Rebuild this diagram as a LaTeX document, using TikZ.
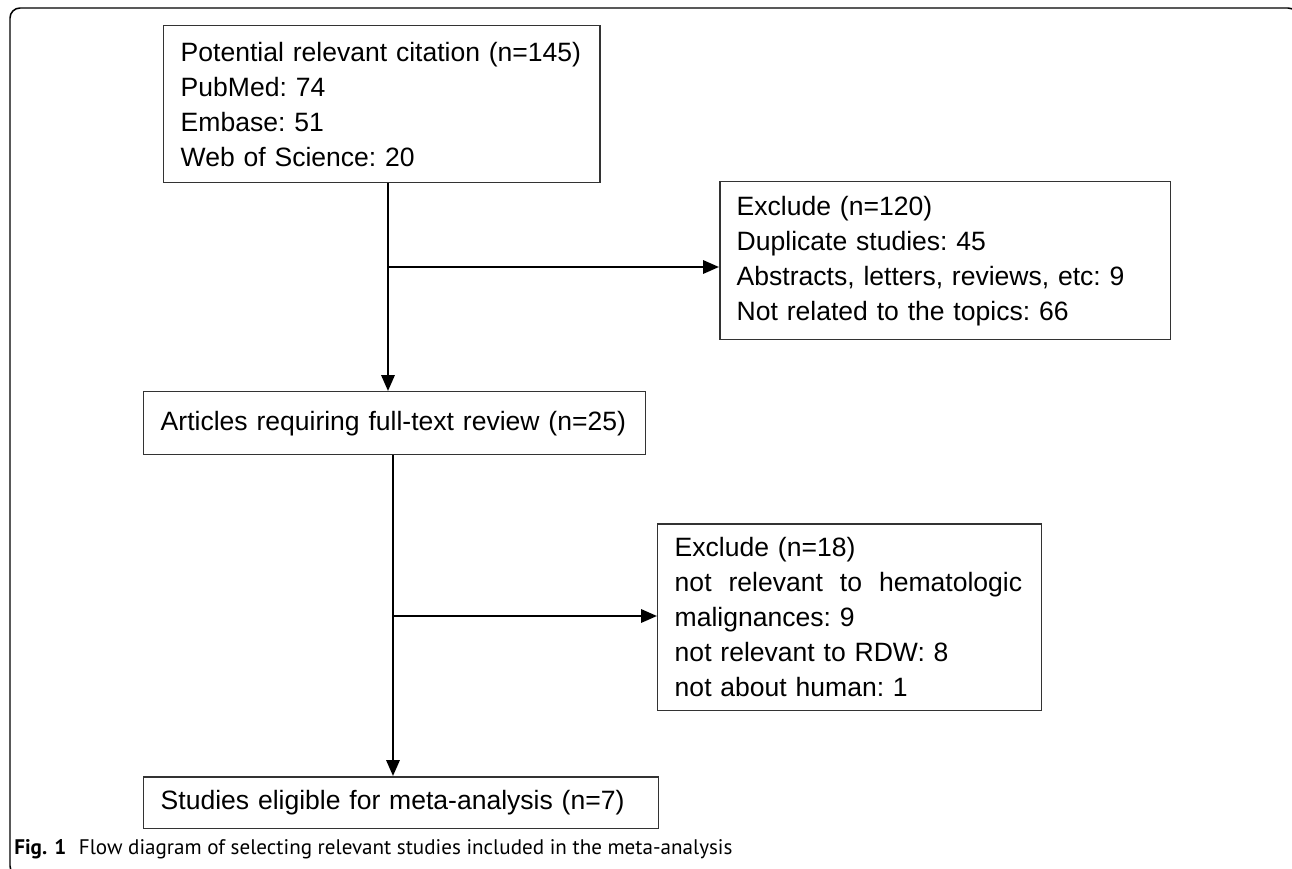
\documentclass[tikz,border=0pt]{standalone}
\usepackage{fontspec}
\setmainfont{Liberation Sans}
\newfontfamily\capfont{PT Sans}
\usetikzlibrary{arrows.meta}

\tikzset{
	flowbox/.style={draw=black!80, line width=0.85pt, anchor=north west, inner xsep=0.34cm, inner ysep=0pt, align=left, font=\frenchspacing\fontsize{15.1pt}{19.9pt}\selectfont},
	flowarrow/.style={line width=1.35pt, -{Triangle[length=9pt,width=7.5pt]}},
}

\begin{document}
\begin{tikzpicture}[x=0.02cm,y=-0.02cm]
	
	\clip (0,0) rectangle (1292,869);
	\draw[line width=0.85pt, rounded corners=0.2cm] (10,8) rectangle (1298,876);
	
	\node[flowbox, text width=8.05cm, minimum height=3.14cm] (cite)     at (163,25)  {Potential relevant citation (n=145)\\PubMed: 74\\Embase: 51\\Web of Science: 20};
	\node[flowbox, text width=8.34cm, minimum height=3.16cm] (excl1)    at (719,181) {Exclude (n=120)\\Duplicate studies: 45\\Abstracts, letters, reviews, etc: 9\\Not related to the topics: 66};
	\node[flowbox, text width=9.36cm, minimum height=1.26cm] (full)     at (143,391) {Articles requiring full-text review (n=25)};
	\node[flowbox, text width=7.0cm,  minimum height=3.74cm] (excl2)    at (657,523) {Exclude (n=18)\\\makebox[6.95cm]{not\hfill relevant\hfill to\hfill hematologic}\\malignances: 9\\not relevant to RDW: 8\\not about human: 1};
	\node[flowbox, text width=9.62cm, minimum height=1.04cm] (eligible) at (143,776) {Studies eligible for meta-analysis (n=7)};
	
	\node[anchor=west, inner sep=0pt, font=\capfont\fontsize{12pt}{14pt}\selectfont] (caption) at (14,849) {\textbf{Fig. 1}\hspace{0.6em}Flow diagram of selecting relevant studies included in the meta-analysis};
	
	\coordinate (fork1) at (388,267);
	\coordinate (fork2) at (393,616);
	\draw[flowarrow] (cite.south -| fork1) -- (full.north -| fork1);
	\draw[flowarrow] (fork1) -- (fork1 -| excl1.west);
	\draw[flowarrow] (full.south -| fork2) -- (eligible.north -| fork2);
	\draw[flowarrow] (fork2) -- (fork2 -| excl2.west);
	
\end{tikzpicture}
\end{document}
